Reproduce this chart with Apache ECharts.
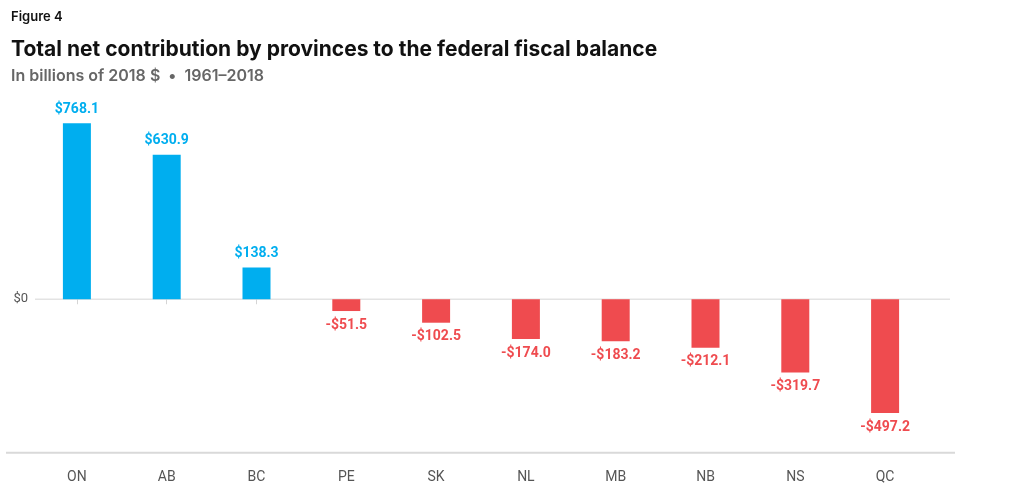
<!DOCTYPE html>
<html><head><meta charset="utf-8">
<script src="https://cdn.jsdelivr.net/npm/echarts@6/dist/echarts.min.js"></script>
<style>html,body{margin:0;padding:0;background:#fff}#c{width:1024px;height:501px}</style>
</head><body><div id="c"></div>
<script>
const categories = ['ON','AB','BC','PE','SK','NL','MB','NB','NS','QC'];
const values = [768.1, 630.9, 138.3, -51.5, -102.5, -174.0, -183.2, -212.1, -319.7, -497.2];
const yMin = -670, yMax = 800;
const BLUE = '#00AEEF', RED = '#EF4B4F';
const fmt = v => (v < 0 ? '-$' + Math.abs(v).toFixed(1) : '$' + v.toFixed(1));

const chart = echarts.init(document.getElementById('c'));
chart.setOption({
  animation: false,
  textStyle: {fontFamily: 'Inter'},
  title: [
    {text: 'Figure 4', left: 6, top: 6, textStyle: {fontFamily: 'Inter', fontSize: 13, fontWeight: 600, color: '#111'}},
    {text: 'Total net contribution by provinces to the federal fiscal balance', left: 6, top: 34,
     textStyle: {fontFamily: 'Inter', fontSize: 21, fontWeight: 700, color: '#111'}},
    {text: 'In billions of 2018 $  \u2022  1961\u20132018', left: 6, top: 63,
     textStyle: {fontFamily: 'Inter', fontSize: 16, fontWeight: 600, color: '#666'}}
  ],
  grid: {left: 32, right: 94, top: 116, bottom: 48.3, containLabel: false},
  xAxis: {
    type: 'category', data: categories,
    axisLine: {show: false},
    axisTick: {show: true, alignWithLabel: true, length: 5, lineStyle: {color: '#d5d5d5'}},
    axisLabel: {color: '#555', fontFamily: 'Roboto', fontSize: 14, margin: 18}
  },
  yAxis: {
    type: 'value', min: yMin, max: yMax, interval: 670,
    axisLine: {show: false}, axisTick: {show: false},
    splitLine: {show: false},
    axisLabel: {formatter: v => v === 0 ? '$0' : '', color: '#555', fontFamily: 'Roboto', fontSize: 13, margin: 4}
  },
  series: [{
    type: 'bar', barWidth: 28,
    data: values.map(v => ({
      value: v,
      itemStyle: {color: v >= 0 ? BLUE : RED},
      label: {show: true, position: v >= 0 ? 'top' : 'bottom', distance: 7,
        color: v >= 0 ? BLUE : RED, fontFamily: 'Roboto', fontWeight: 'bold', fontSize: 14,
        formatter: p => fmt(p.value)}
    }))
  }]
});
const y0 = chart.convertToPixel({yAxisIndex: 0}, 0);
const yB = chart.convertToPixel({yAxisIndex: 0}, yMin);
chart.setOption({
  graphic: [
    {type: 'line', z: -1, shape: {x1: 35, y1: y0, x2: 950, y2: y0}, style: {stroke: '#e3e3e3', lineWidth: 1.5}},
    {type: 'line', z: -1, shape: {x1: 6, y1: yB, x2: 955, y2: yB}, style: {stroke: '#d9d9d9', lineWidth: 2}}
  ]
});
</script></body></html>
